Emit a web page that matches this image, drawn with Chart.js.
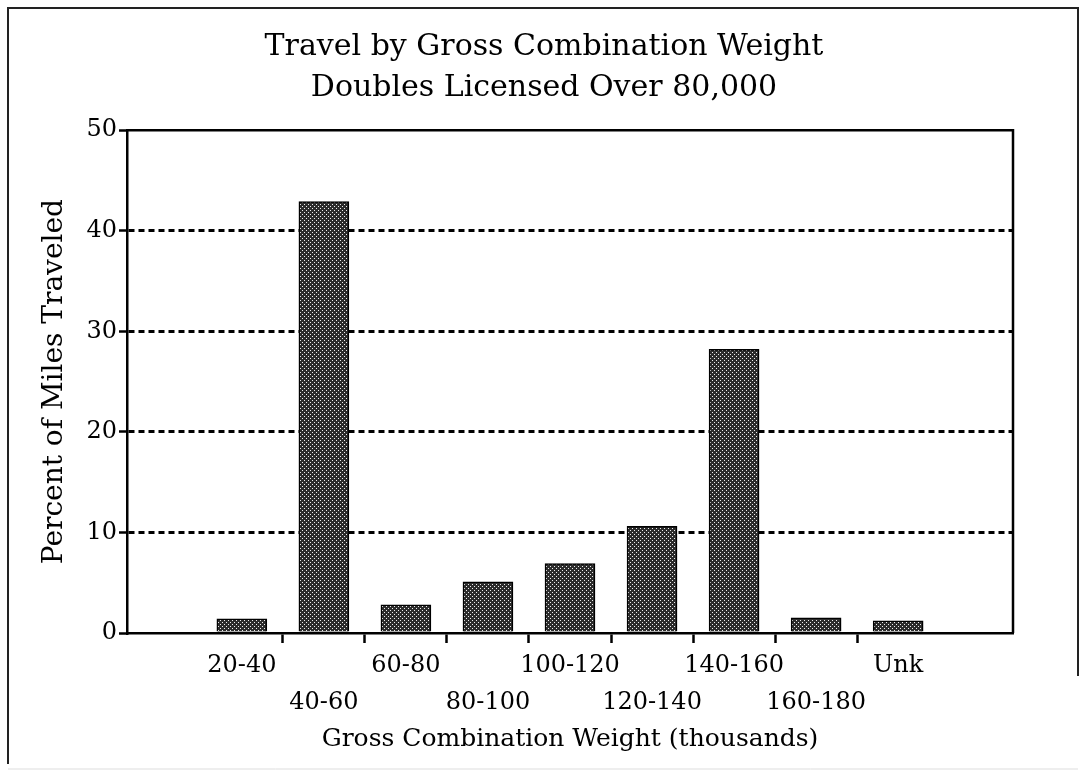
<!DOCTYPE html>
<html>
<head>
<meta charset="utf-8">
<script src="https://cdn.jsdelivr.net/npm/chart.js@4"></script>
<style>
  html, body { margin: 0; padding: 0; background: #fff; }
  #wrap { position: relative; width: 1088px; height: 771px; }
</style>
</head>
<body>
<div id="wrap"><canvas id="chart" width="1088" height="771"></canvas></div>
<script>
// values
var categories = ['20-40', '40-60', '60-80', '80-100', '100-120', '120-140', '140-160', '160-180', 'Unk'];
var percentMiles = [1.4, 42.9, 2.8, 5.1, 6.9, 10.6, 28.2, 1.5, 1.2];
var yTicks = [0, 10, 20, 30, 40, 50];
var titleLines = ['Travel by Gross Combination Weight', 'Doubles Licensed Over 80,000'];

var serif = "'DejaVu Serif', 'Liberation Serif', serif";
Chart.defaults.font.family = serif;
Chart.defaults.color = '#000';

// dark stippled fill like the printed bars
function makeStipple() {
  var c = document.createElement('canvas');
  c.width = 4; c.height = 4;
  var g = c.getContext('2d');
  g.fillStyle = '#2c2c2c';
  g.fillRect(0, 0, 4, 4);
  g.fillStyle = '#eeeeee';
  g.fillRect(0, 0, 1, 1);
  g.fillRect(2, 2, 1, 1);
  return g.createPattern(c, 'repeat');
}

// outer frame + top/right edges of the plot box
var framePlugin = {
  id: 'frame',
  beforeDraw: function(chart) {
    var ctx = chart.ctx;
    ctx.save();
    ctx.fillStyle = '#fff';
    ctx.fillRect(0, 0, chart.width, chart.height);
    ctx.strokeStyle = '#222';
    ctx.lineWidth = 2;
    ctx.beginPath();
    ctx.moveTo(8, 764);
    ctx.lineTo(8, 8);
    ctx.lineTo(1078, 8);
    ctx.lineTo(1078, 676);
    ctx.stroke();
    ctx.strokeStyle = '#ddd';
    ctx.lineWidth = 1;
    ctx.beginPath();
    ctx.moveTo(8, 769);
    ctx.lineTo(1078, 769);
    ctx.stroke();
    ctx.restore();
  },
  afterDraw: function(chart) {
    var a = chart.chartArea;
    var ctx = chart.ctx;
    ctx.save();
    ctx.strokeStyle = '#000';
    ctx.lineWidth = 2.5;
    ctx.beginPath();
    ctx.moveTo(a.left, a.top);
    ctx.lineTo(a.right, a.top);
    ctx.lineTo(a.right, a.bottom);
    ctx.stroke();
    ctx.restore();
  }
};

new Chart(document.getElementById('chart'), {
  type: 'bar',
  data: {
    datasets: [{
      data: percentMiles.map(function(v, i) { return { x: i, y: v }; }),
      backgroundColor: makeStipple(),
      borderColor: '#000',
      borderWidth: 1.5,
      barThickness: 50
    }]
  },
  options: {
    responsive: false,
    animation: false,
    layout: { padding: { left: 30, right: 30, top: 0, bottom: 10 } },
    plugins: {
      legend: { display: false },
      tooltip: { enabled: false },
      title: {
        display: true,
        text: titleLines,
        font: { family: serif, size: 30, weight: 'normal', lineHeight: 1.37 },
        color: '#000',
        padding: { top: 27, bottom: 21 }
      }
    },
    scales: {
      x: {
        type: 'linear',
        offset: false,
        min: -1.4,
        max: 9.4,
        afterBuildTicks: function(scale) {
          scale.ticks = categories.map(function(c, i) { return { value: i }; });
        },
        afterFit: function(scale) { scale.height = 771 - 10 - 633; },
        ticks: {
          autoSkip: false,
          maxRotation: 0,
          padding: 4,
          font: { size: 24, lineHeight: 1.54 },
          callback: function(value) {
            var name = categories[value];
            return value % 2 === 0 ? [name, ''] : ['', name];
          }
        },
        grid: {
          offset: true,
          drawOnChartArea: false,
          tickLength: 10,
          tickWidth: 2.5,
          tickColor: function(ctx) {
            return (ctx.index >= 1 && ctx.index <= 8) ? '#000' : 'rgba(0,0,0,0)';
          }
        },
        border: { color: '#000', width: 2.5 },
        title: {
          display: true,
          text: 'Gross Combination Weight (thousands)',
          font: { size: 25 },
          padding: { top: 0, bottom: 7 }
        }
      },
      y: {
        min: yTicks[0],
        max: yTicks[yTicks.length - 1],
        afterBuildTicks: function(scale) {
          scale.ticks = yTicks.map(function(v) { return { value: v }; });
        },
        afterFit: function(scale) { scale.width = 127 - 30; },
        ticks: { padding: 2, font: { size: 24 } },
        grid: {
          color: function(ctx) {
            var v = ctx.tick ? ctx.tick.value : 0;
            return (v > yTicks[0] && v < yTicks[yTicks.length - 1]) ? '#000' : 'rgba(0,0,0,0)';
          },
          lineWidth: 3,
          tickColor: '#000',
          tickWidth: 2.5,
          tickLength: 8,
          tickBorderDash: []
        },
        border: { color: '#000', width: 2.5, dash: [6, 4] },
        title: {
          display: true,
          text: 'Percent of Miles Traveled',
          font: { size: 28 },
          padding: { top: 8, bottom: 0 }
        }
      },
      y2: {
        position: 'right',
        display: true,
        afterFit: function(scale) { scale.width = 1088 - 30 - 1013; },
        ticks: { display: false },
        grid: { display: false },
        border: { display: false }
      }
    }
  },
  plugins: [framePlugin]
});
</script>
</body>
</html>
